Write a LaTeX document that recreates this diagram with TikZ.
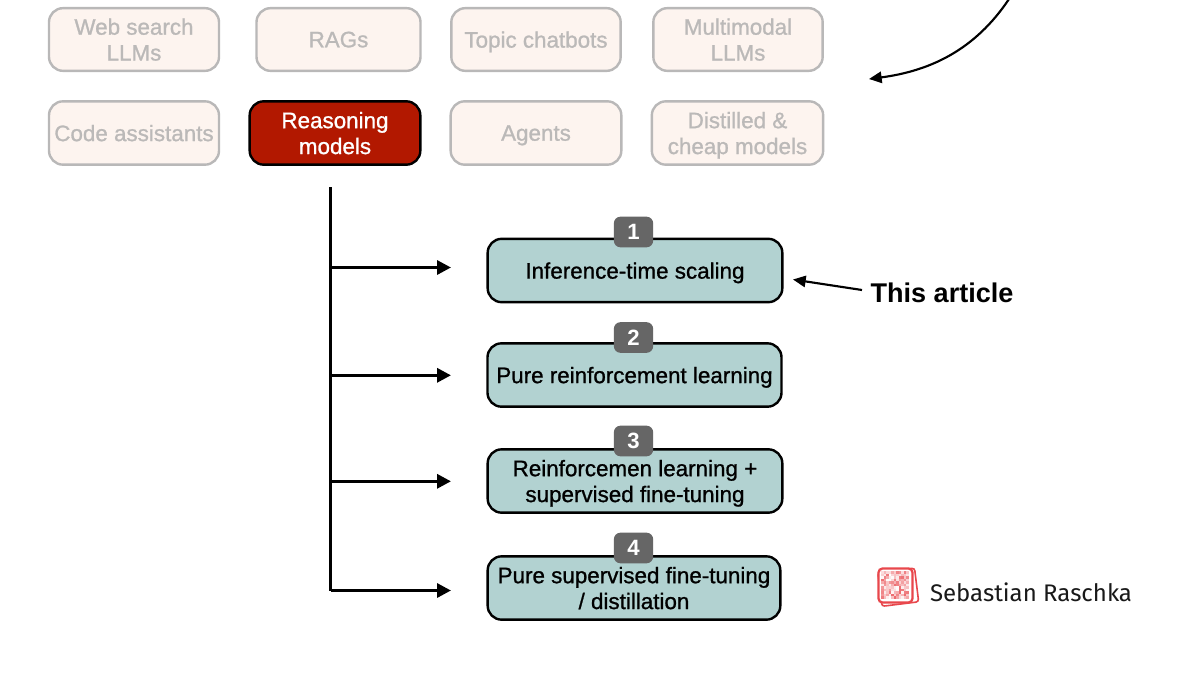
\documentclass[tikz,border=0pt]{standalone}
\usepackage{fontspec}
\setmainfont{Liberation Sans}
\newfontfamily\medfont[FakeBold=1]{Liberation Sans}
\newfontfamily\logofont{Fira Sans}
\usetikzlibrary{arrows.meta}
\definecolor{fadefill}{HTML}{FDF4EF}
\definecolor{fadeline}{HTML}{B9B8B8}
\definecolor{fadetext}{HTML}{BBB9B8}
\definecolor{redbox}{HTML}{B21800}
\definecolor{tealbox}{HTML}{B2D2D1}
\definecolor{badgegray}{HTML}{666666}
\definecolor{logored}{HTML}{E8474C}
\tikzset{
  x=0.75pt,y=-0.75pt,
  basebox/.style={rounded corners=10.5pt,align=center,inner sep=0pt,text depth=0pt,line width=1.8pt,font=\medfont\fontsize{16.8}{19.4}\selectfont},
  fadebox/.style={basebox,draw=fadeline,fill=fadefill,text=fadetext},
  redmodel/.style={basebox,draw=black,fill=redbox,text=white},
  tealmodel/.style={basebox,draw=black,fill=tealbox,text=black},
  badge/.style={rounded corners=5pt,fill=badgegray,text=white,inner sep=0pt,minimum width=29.5pt,minimum height=23pt,font=\fontsize{16.6}{19}\selectfont\bfseries},
  thickarrow/.style={line width=2.4pt,-{Triangle[length=10.5pt,width=10.5pt]}},
  thinarrow/.style={line width=1.6pt,-{Triangle[length=9.5pt,width=8.5pt]}},
  trunk/.style={line width=2.4pt},
}
\begin{document}
\begin{tikzpicture}
\useasboundingbox (0,0) rectangle (1200,675);
\fill[white] (0,0) rectangle (1200,675);
% faded boxes
\node[fadebox,minimum width=127.5pt,minimum height=47pt] (web) at (134,39.5) {Web search\\LLMs};
\node[fadebox,minimum width=123pt,minimum height=47pt] (rags) at (338.5,39.5) {RAGs};
\node[fadebox,minimum width=127pt,minimum height=47pt] (topic) at (536,39.5) {Topic chatbots};
\node[fadebox,minimum width=127pt,minimum height=47pt] (multi) at (738,39.5) {Multimodal\\LLMs};
\node[fadebox,minimum width=127.5pt,minimum height=47.5pt] (code) at (134,133) {Code assistants};
\node[redmodel,minimum width=128pt,minimum height=47.5pt] (reason) at (335,133) {Reasoning\\models};
\node[fadebox,minimum width=128pt,minimum height=47.5pt] (agents) at (536,133) {Agents};
\node[fadebox,minimum width=128.5pt,minimum height=47.5pt] (distilled) at (737.5,133) {Distilled \&\\cheap models};
% teal boxes
\node[tealmodel,minimum width=221pt,minimum height=47.5pt] (t1) at (635,270.5) {Inference-time scaling};
\node[tealmodel,minimum width=220.5pt,minimum height=47.5pt] (t2) at (634.5,375) {Pure reinforcement learning};
\node[tealmodel,minimum width=221pt,minimum height=47.5pt] (t3) at (635,481) {Reinforcemen learning +\\supervised fine-tuning};
\node[tealmodel,minimum width=219.5pt,minimum height=47.5pt] (t4) at (634,588) {Pure supervised fine-tuning\\/ distillation};
% badges
\node[badge] (b1) at (633.5,232) {1};
\node[badge] (b2) at (633.5,337.5) {2};
\node[badge] (b3) at (633.5,441) {3};
\node[badge] (b4) at (633.5,548) {4};
% trunk and arrows
\coordinate (top) at (330.5,187);
\coordinate (bottom) at (330.5,590.5);
\coordinate (j1) at (330.5,267.5);
\coordinate (j2) at (330.5,375.3);
\coordinate (j3) at (330.5,481.3);
\coordinate (e1) at (451,267.5);
\coordinate (e2) at (451,375.3);
\coordinate (e3) at (451,481.3);
\coordinate (e4) at (451,590.5);
\draw[trunk] (top) -- (bottom);
\draw[thickarrow] (j1) -- (e1);
\draw[thickarrow] (j2) -- (e2);
\draw[thickarrow] (j3) -- (e3);
\draw[thickarrow] (bottom) -- (e4);
% this article
\node[font=\fontsize{20.3}{24}\selectfont\bfseries,inner sep=0pt] (article) at (942,293) {This article};
\coordinate (artstart) at (862,290);
\coordinate (artend) at (793,279.5);
\draw[thinarrow] (artstart) -- (artend);
% curve
\coordinate (cstart) at (1009,-1);
\coordinate (cend) at (869,79);
\draw[thinarrow] (cstart) .. controls (975,50) and (930,71) .. (cend);
% logo
\begin{scope}[shift={(895.5,585.5)}]
  \draw[logored,line width=1.2pt,fill=white,rounded corners=2pt,rotate=7] (-16,-15) rectangle (21,19);
  \draw[logored,line width=1.7pt,fill=white,rounded corners=3pt] (-17,-17) rectangle (17,17);
  \pgfmathsetseed{42}
  \foreach \gx in {-14.5,-12,...,12.5}
    \foreach \gy in {-14.5,-12,...,12.5}{
      \pgfmathsetmacro{\shade}{rnd*80}
      \fill[logored!\shade!white] (\gx,\gy) rectangle ++(2.5,2.5);
    }
\end{scope}
\node[font=\logofont\fontsize{18}{21}\selectfont,inner sep=0pt,text=black!90] (author) at (1031,592) {Sebastian Raschka};
\end{tikzpicture}
\end{document}
